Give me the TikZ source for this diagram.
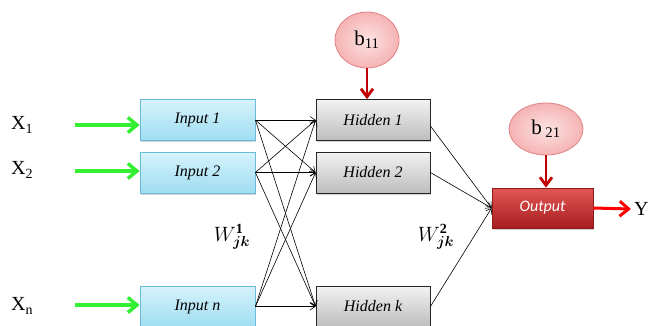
\documentclass[tikz,border=0pt]{standalone}
\usepackage{bm}
\usepackage{fontspec}
\setmainfont{Liberation Serif}
\newfontfamily\calibri{Carlito}
\usetikzlibrary{arrows.meta,shapes.geometric,shadows}
\definecolor{inbord}{HTML}{6BBBD8}
\definecolor{intop}{HTML}{D6F3FC}
\definecolor{inbot}{HTML}{9FDDF2}
\definecolor{hidtop}{HTML}{F2F2F2}
\definecolor{hidbot}{HTML}{BDBDBD}
\definecolor{outtop}{HTML}{E25555}
\definecolor{outbot}{HTML}{A81E1E}
\definecolor{outbord}{HTML}{8C1A1A}
\definecolor{pinkin}{HTML}{FDE3E3}
\definecolor{pinkout}{HTML}{F5B3B3}
\definecolor{pinkbord}{HTML}{E08585}
\definecolor{darkred}{HTML}{C00000}
\definecolor{lime}{HTML}{33F033}
\tikzset{
  box/.style={rectangle, minimum width=115pt, minimum height=41pt, inner sep=0pt,
    font=\fontsize{16}{18}\selectfont\itshape,
    drop shadow={shadow xshift=1pt, shadow yshift=-1.5pt, opacity=0.35}},
  inbox/.style={box, draw=inbord, line width=0.8pt, shading=axis, top color=intop, bottom color=inbot},
  hidbox/.style={box, minimum width=114pt, draw=black!85, line width=0.8pt, shading=axis, top color=hidtop, bottom color=hidbot},
  outbox/.style={box, minimum width=101pt, minimum height=40pt, draw=outbord, line width=0.8pt,
    shading=axis, top color=outtop, bottom color=outbot, text=white, font=\fontsize{16}{18}\selectfont\calibri\itshape},
  bias/.style={ellipse, draw=pinkbord, line width=0.8pt, inner color=pinkin, outer color=pinkout,
    font=\fontsize{21}{23}\selectfont, inner sep=0pt},
  conn/.style={-{Straight Barb[length=5pt,width=7pt]}, line width=0.6pt, black},
  green/.style={-{Straight Barb[length=9pt,width=15pt]}, line width=3.5pt, lime},
  biasarr/.style={-{Straight Barb[length=8pt,width=12pt]}, line width=2.8pt, darkred},
  yarr/.style={-{Straight Barb[length=9pt,width=15pt]}, line width=3pt, red},
  lab/.style={font=\fontsize{20}{22}\selectfont, inner sep=0pt},
  wlab/.style={font=\fontsize{20}{22}\selectfont, inner sep=0pt}
}
\begin{document}
\begin{tikzpicture}[x=1pt,y=-1pt]
\useasboundingbox (0,0) rectangle (651,325);
% input layer
\node[inbox] (in1) at (197.5,120) {Input 1};
\node[inbox] (in2) at (197.5,172.5) {Input 2};
\node[inbox] (inn) at (197.5,306.5) {Input n};
% hidden layer
\node[hidbox] (h1) at (373,120) {Hidden 1};
\node[hidbox] (h2) at (373,172.5) {Hidden 2};
\node[hidbox] (hk) at (373,306.5) {Hidden k};
% output
\node[outbox] (out) at (542.5,208) {Output};
% biases
\node[bias, minimum width=64pt, minimum height=56pt] (b11) at (367,40) {b\textsubscript{11}};
\node[bias, minimum width=74pt, minimum height=52pt] (b21) at (546,129) {b\,\textsubscript{21}};
% inputs labels
\node[lab, anchor=west] (x1) at (11,125) {X\textsubscript{1}};
\node[lab, anchor=west] (x2) at (11,170) {X\textsubscript{2}};
\node[lab, anchor=west] (xn) at (11,306) {X\textsubscript{n}};
\node[lab, anchor=west] (y) at (634,209) {Y};
% weight labels
\node[wlab] (w1) at (232,237) {$W^{\mathbf{1}}_{\bm{jk}}$};
\node[wlab] (w2) at (436,237) {$W^{\mathbf{2}}_{\bm{jk}}$};
% green input arrows
\coordinate (s1) at (75,125);
\coordinate (s2) at (75,171);
\coordinate (sn) at (75,305);
\draw[green] (s1) -- (s1 -| in1.west);
\draw[green] (s2) -- (s2 -| in2.west);
\draw[green] (sn) -- (sn -| inn.west);
% input -> hidden
\foreach \a in {in1,in2,inn}{
  \foreach \b in {h1,h2,hk}{
    \draw[conn] (\a.east) -- (\b.west);
  }
}
% hidden -> output
\draw[conn] ([yshift=-6pt]h1.east) -- (out.west);
\draw[conn] (h2.east) -- (out.west);
\draw[conn] (hk.east) -- (out.west);
% bias arrows
\draw[biasarr] (b11.south) -- (b11.south |- h1.north);
\draw[biasarr] (b21.south) -- (b21.south |- out.north);
% output arrow
\draw[yarr] (out.east) -- ([xshift=-3pt]y.west);
\end{tikzpicture}
\end{document}
